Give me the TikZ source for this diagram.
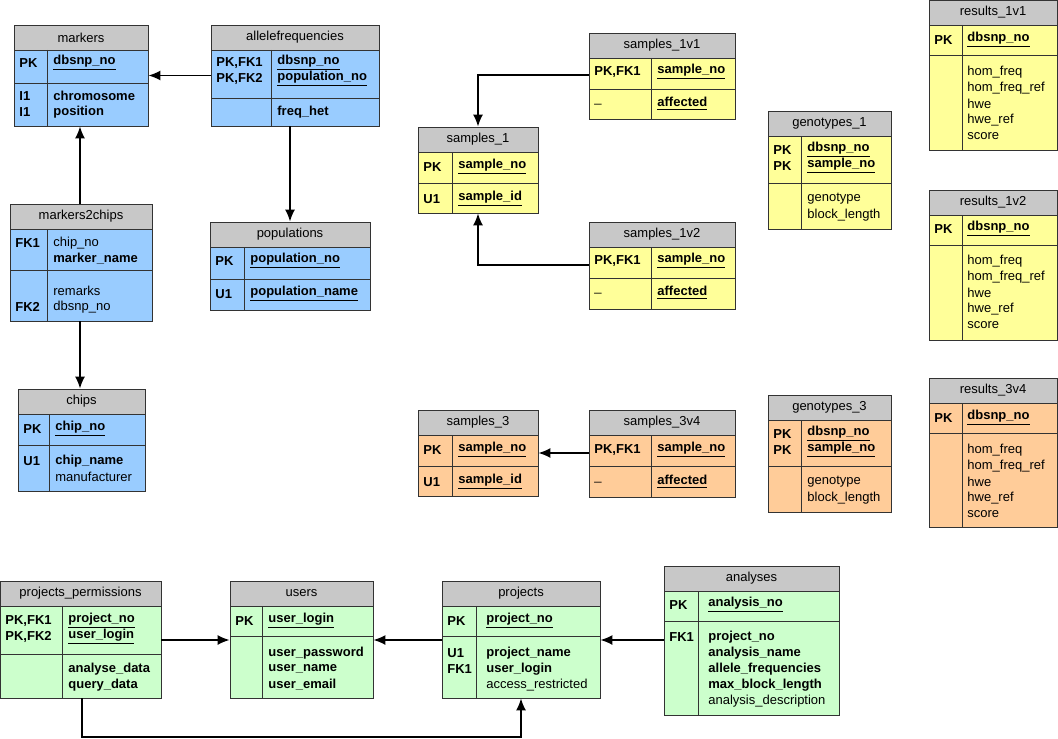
\documentclass[tikz,border=0pt]{standalone}
\usepackage{fontspec}
\setmainfont{Liberation Sans}
\usetikzlibrary{fit}
\definecolor{hdgray}{HTML}{C8C8C8}
\definecolor{erblue}{HTML}{99CCFF}
\definecolor{eryellow}{HTML}{FFFF99}
\definecolor{erorange}{HTML}{FFCC99}
\definecolor{ergreen}{HTML}{CCFFCC}
\tikzset{
  fld/.style={anchor=west,inner sep=0pt,font=\fontsize{6.5}{8}\selectfont},
  ttl/.style={inner sep=0pt,font=\fontsize{6.5}{8}\selectfont},
  rel/.style={draw,thick,-{Latex[length=6pt,width=5pt]}},
  frame/.style={draw=black!80,thin}
}
\usetikzlibrary{arrows.meta}
% table: name, x1, y1, x2, y of section line, y bottom, x of key column, colour, title
\newcommand\tbl[9]{
  \fill[#8] (#2,{#3+25}) rectangle (#4,#6);
  \fill[hdgray] (#2,#3) rectangle (#4,{#3+25});
  \draw[frame] (#2,#3) rectangle (#4,#6);
  \draw[frame] (#2,{#3+25}) -- (#4,{#3+25});
  \draw[frame] (#2,#5) -- (#4,#5);
  \draw[frame] (#7,{#3+25}) -- (#7,#6);
  \node[ttl] at ({(#2+#4)/2},{#3+12.5}) {#9};
  \node[fit={(#2,#3)(#4,#6)},inner sep=0pt] (#1) {};
}
% column of lines: x, y of first line, lines
\newcommand\fl[3]{
  \foreach \t [count=\i] in {#3} {\node[fld] at (#1,{#2+16*(\i-1)}) {\t};}
}
\newcommand\pk[1]{\textbf{\underline{#1}}}
\newcommand\bb[1]{\textbf{#1}}
\begin{document}
\begin{tikzpicture}[x=0.5pt,y=-0.5pt]
\useasboundingbox (0,0) rectangle (1058,738);
% markers group
\tbl{markers}{14}{25}{148}{83}{126}{47}{erblue}{markers}
\fl{19}{63}{\bb{PK}} \fl{53}{63}{\pk{dbsnp\_no}}
\fl{19}{96}{\bb{I1},\bb{I1}} \fl{53}{96}{\bb{chromosome},\bb{position}}
\tbl{allelefrequencies}{211}{25}{379}{98}{126}{271}{erblue}{allelefrequencies}
\fl{216}{63}{\bb{{PK,FK1}},\bb{{PK,FK2}}} \fl{277}{63}{\pk{dbsnp\_no},\pk{population\_no}}
\fl{277}{112}{\bb{freq\_het}}
\tbl{markers2chips}{10}{204}{152}{270}{321}{47}{erblue}{markers2chips}
\fl{15}{243}{\bb{FK1}} \fl{53}{243}{chip\_no,\bb{marker\_name}}
\fl{15}{307}{\bb{FK2}} \fl{53}{291}{remarks,dbsnp\_no}
\tbl{chips}{18}{389}{145}{445}{491}{49}{erblue}{chips}
\fl{23}{429}{\bb{PK}} \fl{55}{429}{\pk{chip\_no}}
\fl{23}{461}{\bb{U1}} \fl{55}{461}{\bb{chip\_name},manufacturer}
\tbl{populations}{210}{222}{370}{279}{310}{244}{erblue}{populations}
\fl{215}{261}{\bb{PK}} \fl{250}{261}{\pk{population\_no}}
\fl{215}{294}{\bb{U1}} \fl{250}{294}{\pk{population\_name}}
% samples 1
\tbl{samples1}{418}{127}{538}{183}{213}{452}{eryellow}{samples\_1}
\fl{423}{167}{\bb{PK}} \fl{458}{167}{\pk{sample\_no}}
\fl{423}{199}{\bb{U1}} \fl{458}{199}{\pk{sample\_id}}
\tbl{samples1v1}{589}{33}{735}{89}{119}{651}{eryellow}{samples\_1v1}
\fl{594}{72}{\bb{{PK,FK1}}} \fl{657}{72}{\pk{sample\_no}}
\fl{594}{104}{\_} \fl{657}{104}{\pk{affected}}
\tbl{samples1v2}{589}{222}{735}{278}{309}{651}{eryellow}{samples\_1v2}
\fl{594}{261}{\bb{{PK,FK1}}} \fl{657}{261}{\pk{sample\_no}}
\fl{594}{293}{\_} \fl{657}{293}{\pk{affected}}
\tbl{genotypes1}{768}{111}{891}{183}{229}{801}{eryellow}{genotypes\_1}
\fl{773}{150}{\bb{PK},\bb{PK}} \fl{807}{150}{\pk{dbsnp\_no},\pk{sample\_no}}
\fl{807}{199}{genotype,block\_length}
\tbl{results1v1}{929}{0}{1057}{55}{150}{962}{eryellow}{results\_1v1}
\fl{934}{40}{\bb{PK}} \fl{967}{40}{\pk{dbsnp\_no}}
\fl{967}{72}{hom\_freq,hom\_freq\_ref,hwe,hwe\_ref,score}
\tbl{results1v2}{929}{190}{1057}{245}{340}{962}{eryellow}{results\_1v2}
\fl{934}{229}{\bb{PK}} \fl{967}{229}{\pk{dbsnp\_no}}
\fl{967}{261}{hom\_freq,hom\_freq\_ref,hwe,hwe\_ref,score}
% samples 3
\tbl{samples3}{418}{410}{538}{466}{496}{452}{erorange}{samples\_3}
\fl{423}{450}{\bb{PK}} \fl{458}{450}{\pk{sample\_no}}
\fl{423}{482}{\bb{U1}} \fl{458}{482}{\pk{sample\_id}}
\tbl{samples3v4}{589}{410}{735}{466}{497}{651}{erorange}{samples\_3v4}
\fl{594}{450}{\bb{{PK,FK1}}} \fl{657}{450}{\pk{sample\_no}}
\fl{594}{482}{\_} \fl{657}{482}{\pk{affected}}
\tbl{genotypes3}{768}{395}{891}{466}{512}{801}{erorange}{genotypes\_3}
\fl{773}{434}{\bb{PK},\bb{PK}} \fl{807}{434}{\pk{dbsnp\_no},\pk{sample\_no}}
\fl{807}{482}{genotype,block\_length}
\tbl{results3v4}{929}{378}{1057}{433}{527}{962}{erorange}{results\_3v4}
\fl{934}{418}{\bb{PK}} \fl{967}{418}{\pk{dbsnp\_no}}
\fl{967}{450}{hom\_freq,hom\_freq\_ref,hwe,hwe\_ref,score}
% projects group
\tbl{permissions}{0}{581}{161}{654}{698}{62}{ergreen}{projects\_permissions}
\fl{5}{621}{\bb{{PK,FK1}},\bb{{PK,FK2}}} \fl{68}{621}{\pk{project\_no},\pk{user\_login}}
\fl{68}{669}{\bb{analyse\_data},\bb{query\_data}}
\tbl{users}{230}{581}{373}{636}{698}{262}{ergreen}{users}
\fl{235}{621}{\bb{PK}} \fl{268}{621}{\pk{user\_login}}
\fl{268}{653}{\bb{user\_password},\bb{user\_name},\bb{user\_email}}
\tbl{projects}{442}{581}{600}{636}{698}{476}{ergreen}{projects}
\fl{447}{621}{\bb{PK}} \fl{486}{621}{\pk{project\_no}}
\fl{447}{653}{\bb{U1},\bb{FK1}} \fl{486}{653}{\bb{project\_name},\bb{user\_login},access\_restricted}
\tbl{analyses}{664}{566}{839}{621}{715}{698}{ergreen}{analyses}
\fl{669}{605}{\bb{PK}} \fl{708}{605}{\pk{analysis\_no}}
\fl{669}{637}{\bb{FK1}} \fl{708}{637}{\bb{project\_no},\bb{analysis\_name},\bb{allele\_frequencies},\bb{max\_block\_length},analysis\_description}
% relations
\coordinate (c1) at (478,75);
\coordinate (c2) at (478,265);
\coordinate (c3) at (82,737);
\coordinate (c4) at (521,737);
\draw[rel] (allelefrequencies.west) -- (allelefrequencies.west -| markers.east);
\draw[rel] (markers2chips.north -| 80,0) -- (markers.south -| 80,0);
\draw[rel] (markers2chips.south -| 80,0) -- (chips.north -| 80,0);
\draw[rel] (allelefrequencies.south -| 290,0) -- (populations.north -| 290,0);
\draw[rel] (samples1v1.west |- c1) -- (c1) -- (samples1.north -| c1);
\draw[rel] (samples1v2.west |- c2) -- (c2) -- (samples1.south -| c2);
\draw[rel] (samples3v4.west |- 0,453) -- (samples3.east |- 0,453);
\draw[rel] (permissions.east |- 0,640) -- (users.west |- 0,640);
\draw[rel] (projects.west |- 0,640) -- (users.east |- 0,640);
\draw[rel] (analyses.west |- 0,640) -- (projects.east |- 0,640);
\draw[rel] (permissions.south -| c3) -- (c3) -- (c4) -- (projects.south -| c4);
\end{tikzpicture}
\end{document}
